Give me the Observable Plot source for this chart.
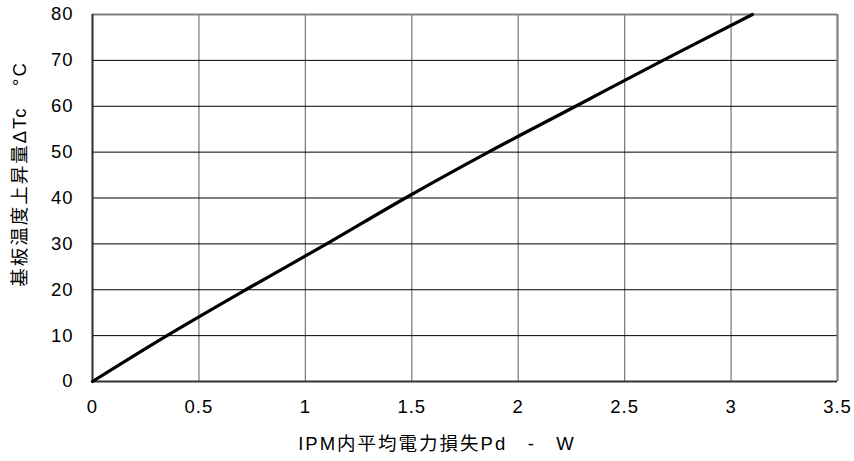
<!DOCTYPE html>
<html><head><meta charset="utf-8">
<script src="https://cdn.jsdelivr.net/npm/d3@7"></script>
<script src="https://cdn.jsdelivr.net/npm/@observablehq/plot@0.6"></script>
<style>
html,body{margin:0;padding:0;background:#fff;}
svg{font-family:"Liberation Sans","Noto Sans CJK JP",sans-serif;letter-spacing:1px;}
</style></head>
<body><div id="chart"></div>
<script>
const pd = [0, 0.35, 0.72, 1.1, 1.47, 1.86, 2.27, 2.68, 3.1];
const dtc = [0, 10, 20, 30, 40, 50, 60, 70, 80];
const xTicks = [0, 0.5, 1, 1.5, 2, 2.5, 3, 3.5];
const yTicks = [0, 10, 20, 30, 40, 50, 60, 70, 80];
const xLabel = "IPM内平均電力損失Pd　-　W";
const yLabel = "基板温度上昇量ΔTc　°C";

const data = pd.map((x, i) => ({x, y: dtc[i]}));

const chart = Plot.plot({
  width: 854, height: 461,
  marginLeft: 92, marginRight: 17, marginTop: 14, marginBottom: 80,
  style: {fontSize: "18.5px", color: "#000", background: "#fff", fontFamily: '"Liberation Sans","Noto Sans CJK JP",sans-serif', letterSpacing: "1px"},
  x: {domain: [0, 3.5], ticks: xTicks, tickFormat: d => String(d), tickSize: 0, tickPadding: 18,
      label: xLabel, labelAnchor: "center", labelOffset: 68, labelArrow: "none"},
  y: {domain: [0, 80], ticks: yTicks, tickFormat: d => String(d), tickSize: 0, tickPadding: 19,
      label: yLabel, labelAnchor: "center", labelOffset: 80, labelArrow: "none"},
  marks: [
    Plot.ruleX(xTicks, {stroke: "#808080", strokeWidth: 1.3}),
    Plot.ruleY(yTicks, {stroke: "#000", strokeWidth: 1}),
    Plot.ruleY([80], {stroke: "#808080", strokeWidth: 2}),
    Plot.ruleX([3.5], {stroke: "#808080", strokeWidth: 2}),
    Plot.ruleY([0], {stroke: "#333", strokeWidth: 2}),
    Plot.ruleX([0], {stroke: "#333", strokeWidth: 2}),
    Plot.line(data, {x: "x", y: "y", stroke: "#000", strokeWidth: 3.2, curve: "catmull-rom"})
  ]
});
const s = d3.select(chart);
s.selectAll('[aria-label="x-axis label"] text').attr("dx", -28).style("letter-spacing", "2px");
s.selectAll('[aria-label="y-axis label"] text').attr("dx", 24).style("letter-spacing", "2px");
document.getElementById("chart").appendChild(chart);
</script></body></html>
